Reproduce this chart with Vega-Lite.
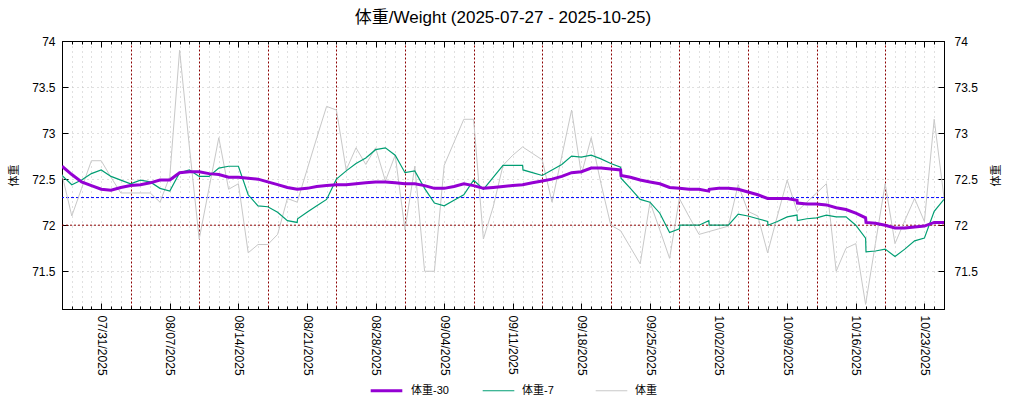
{
  "$schema": "https://vega.github.io/schema/vega-lite/v6.json",
  "autosize": "none",
  "padding": {"left": 62, "top": 41, "right": 80, "bottom": 91},
  "width": 882,
  "height": 268,
  "background": "white",
  "title": {
    "text": "体重/Weight (2025-07-27 - 2025-10-25)",
    "font": "Liberation Sans, Noto Sans CJK JP",
    "fontSize": 17,
    "fontWeight": "normal",
    "color": "#000",
    "anchor": "middle",
    "offset": 8
  },
  "config": {
    "view": {"stroke": "#000"},
    "legend": {
      "orient": "none",
      "legendX": 307,
      "legendY": 332,
      "direction": "horizontal",
      "symbolType": "stroke",
      "symbolSize": 1000,
      "labelFont": "Liberation Sans, Noto Sans CJK JP",
      "labelFontSize": 11,
      "labelColor": "#000",
      "labelOffset": 7,
      "columnPadding": 31,
      "gridAlign": "all"
    }
  },
  "data": {
    "values": [
      {"t": "2025-07-27T00:00", "raw": 72.55, "ma7": 72.54, "ma30": 72.64},
      {"t": "2025-07-28T00:00", "raw": 72.1, "ma7": 72.44, "ma30": 72.55},
      {"t": "2025-07-29T00:00", "raw": 72.4, "ma7": 72.49, "ma30": 72.47},
      {"t": "2025-07-30T00:00", "raw": 72.7, "ma7": 72.56, "ma30": 72.43},
      {"t": "2025-07-31T00:00", "raw": 72.7, "ma7": 72.6, "ma30": 72.39},
      {"t": "2025-08-01T00:00", "raw": 72.52, "ma7": 72.53, "ma30": 72.38},
      {"t": "2025-08-02T00:00", "raw": 72.35, "ma7": 72.49, "ma30": 72.41},
      {"t": "2025-08-03T00:00", "raw": 72.35, "ma7": 72.45, "ma30": 72.43},
      {"t": "2025-08-04T00:00", "raw": 72.35, "ma7": 72.49, "ma30": 72.44},
      {"t": "2025-08-05T00:00", "raw": 72.35, "ma7": 72.47, "ma30": 72.46},
      {"t": "2025-08-06T00:00", "raw": 72.25, "ma7": 72.4, "ma30": 72.49},
      {"t": "2025-08-07T00:00", "raw": 72.53, "ma7": 72.37, "ma30": 72.49},
      {"t": "2025-08-08T00:00", "raw": 73.9, "ma7": 72.57, "ma30": 72.57},
      {"t": "2025-08-09T00:00", "raw": 72.85, "ma7": 72.6, "ma30": 72.58},
      {"t": "2025-08-10T00:00", "raw": 71.85, "ma7": 72.53, "ma30": 72.58},
      {"t": "2025-08-11T00:00", "raw": 72.4, "ma7": 72.53, "ma30": 72.56},
      {"t": "2025-08-12T00:00", "raw": 72.95, "ma7": 72.62, "ma30": 72.55},
      {"t": "2025-08-13T00:00", "raw": 72.39, "ma7": 72.64, "ma30": 72.52},
      {"t": "2025-08-14T00:00", "raw": 72.45, "ma7": 72.64, "ma30": 72.52},
      {"t": "2025-08-15T00:00", "raw": 71.7, "ma7": 72.33, "ma30": 72.51},
      {"t": "2025-08-16T00:00", "raw": 71.79, "ma7": 72.21, "ma30": 72.5},
      {"t": "2025-08-17T00:00", "raw": 71.79, "ma7": 72.2, "ma30": 72.47},
      {"t": "2025-08-18T00:00", "raw": 71.9, "ma7": 72.14, "ma30": 72.44},
      {"t": "2025-08-19T00:00", "raw": 72.29, "ma7": 72.05, "ma30": 72.41},
      {"t": "2025-08-20T00:00", "raw": 72.25, "ma7": 72.03, "ma30": 72.39},
      {"t": "2025-08-20T01:00", "ma7": 72.07},
      {"t": "2025-08-21T00:00", "raw": 72.6, "ma7": 72.14, "ma30": 72.4},
      {"t": "2025-08-22T00:00", "raw": 72.95, "ma7": 72.21, "ma30": 72.42},
      {"t": "2025-08-23T00:00", "raw": 73.29, "ma7": 72.28, "ma30": 72.43},
      {"t": "2025-08-24T00:00", "raw": 73.25, "ma7": 72.5, "ma30": 72.44},
      {"t": "2025-08-25T00:00", "raw": 72.6, "ma7": 72.59, "ma30": 72.44},
      {"t": "2025-08-26T00:00", "raw": 72.84, "ma7": 72.67, "ma30": 72.45},
      {"t": "2025-08-27T00:00", "raw": 72.66, "ma7": 72.73, "ma30": 72.46},
      {"t": "2025-08-28T00:00", "raw": 72.84, "ma7": 72.82, "ma30": 72.47},
      {"t": "2025-08-29T00:00", "raw": 72.48, "ma7": 72.84, "ma30": 72.47},
      {"t": "2025-08-30T00:00", "raw": 72.76, "ma7": 72.76, "ma30": 72.46},
      {"t": "2025-08-31T00:00", "raw": 71.95, "ma7": 72.57, "ma30": 72.45},
      {"t": "2025-09-01T00:00", "raw": 72.64, "ma7": 72.59, "ma30": 72.45},
      {"t": "2025-09-02T00:00", "raw": 71.5, "ma7": 72.4, "ma30": 72.43},
      {"t": "2025-09-03T00:00", "raw": 71.5, "ma7": 72.24, "ma30": 72.4},
      {"t": "2025-09-04T00:00", "raw": 72.65, "ma7": 72.21, "ma30": 72.4},
      {"t": "2025-09-05T00:00", "raw": 72.9, "ma7": 72.27, "ma30": 72.42},
      {"t": "2025-09-06T00:00", "raw": 73.15, "ma7": 72.33, "ma30": 72.45},
      {"t": "2025-09-07T00:00", "raw": 73.15, "ma7": 72.49, "ma30": 72.43},
      {"t": "2025-09-08T00:00", "raw": 71.85, "ma7": 72.39, "ma30": 72.4},
      {"t": "2025-09-09T00:00", "raw": 72.2, "ma7": 72.52, "ma30": 72.41},
      {"t": "2025-09-10T00:00", "raw": 72.65, "ma7": 72.65, "ma30": 72.42},
      {"t": "2025-09-11T00:00", "raw": 72.76, "ma7": 72.65, "ma30": 72.43},
      {"t": "2025-09-12T00:00", "raw": 72.85, "ma7": 72.65, "ma30": 72.44},
      {"t": "2025-09-12T01:00", "ma7": 72.6},
      {"t": "2025-09-13T00:00", "raw": 72.78, "ma7": 72.57, "ma30": 72.46},
      {"t": "2025-09-14T00:00", "raw": 72.71, "ma7": 72.54, "ma30": 72.48},
      {"t": "2025-09-15T00:00", "raw": 72.25, "ma7": 72.6, "ma30": 72.5},
      {"t": "2025-09-16T00:00", "raw": 72.75, "ma7": 72.66, "ma30": 72.53},
      {"t": "2025-09-17T00:00", "raw": 73.25, "ma7": 72.75, "ma30": 72.57},
      {"t": "2025-09-18T00:00", "raw": 72.55, "ma7": 72.74, "ma30": 72.58},
      {"t": "2025-09-19T00:00", "raw": 72.95, "ma7": 72.76, "ma30": 72.62},
      {"t": "2025-09-20T00:00", "raw": 72.45, "ma7": 72.72, "ma30": 72.62},
      {"t": "2025-09-21T00:00", "raw": 72.0, "ma7": 72.67, "ma30": 72.61},
      {"t": "2025-09-22T00:00", "raw": 71.94, "ma7": 72.63, "ma30": 72.6},
      {"t": "2025-09-22T01:00", "ma7": 72.51, "ma30": 72.54},
      {"t": "2025-09-23T00:00", "raw": 71.76, "ma7": 72.4, "ma30": 72.52},
      {"t": "2025-09-24T00:00", "raw": 71.58, "ma7": 72.28, "ma30": 72.49},
      {"t": "2025-09-25T00:00", "raw": 72.25, "ma7": 72.25, "ma30": 72.47},
      {"t": "2025-09-26T00:00", "raw": 71.95, "ma7": 72.13, "ma30": 72.45},
      {"t": "2025-09-27T00:00", "raw": 71.64, "ma7": 71.92, "ma30": 72.41},
      {"t": "2025-09-28T00:00", "raw": 72.29, "ma7": 71.96, "ma30": 72.4},
      {"t": "2025-09-28T01:00", "ma7": 72.0},
      {"t": "2025-09-29T00:00", "raw": 72.09, "ma7": 72.0, "ma30": 72.39},
      {"t": "2025-09-30T00:00", "raw": 71.9, "ma7": 72.0, "ma30": 72.39},
      {"t": "2025-10-01T00:00", "raw": 71.93, "ma7": 72.05, "ma30": 72.37},
      {"t": "2025-10-01T01:00", "ma7": 72.0, "ma30": 72.39},
      {"t": "2025-10-02T00:00", "raw": 71.96, "ma7": 72.0, "ma30": 72.4},
      {"t": "2025-10-03T00:00", "raw": 71.99, "ma7": 72.0, "ma30": 72.4},
      {"t": "2025-10-04T00:00", "raw": 72.44, "ma7": 72.12, "ma30": 72.39},
      {"t": "2025-10-05T00:00", "raw": 72.15, "ma7": 72.1, "ma30": 72.36},
      {"t": "2025-10-06T00:00", "raw": 72.1, "ma7": 72.07, "ma30": 72.33},
      {"t": "2025-10-07T00:00", "raw": 71.7, "ma7": 72.04, "ma30": 72.29},
      {"t": "2025-10-07T01:00", "ma7": 72.0},
      {"t": "2025-10-08T00:00", "raw": 72.1, "ma7": 72.04, "ma30": 72.29},
      {"t": "2025-10-09T00:00", "raw": 72.49, "ma7": 72.09, "ma30": 72.29},
      {"t": "2025-10-10T00:00", "raw": 72.15, "ma7": 72.11, "ma30": 72.27},
      {"t": "2025-10-10T01:00", "ma7": 72.05, "ma30": 72.24},
      {"t": "2025-10-11T00:00", "raw": 72.25, "ma7": 72.07, "ma30": 72.23},
      {"t": "2025-10-12T00:00", "raw": 72.35, "ma7": 72.08, "ma30": 72.23},
      {"t": "2025-10-13T00:00", "raw": 72.45, "ma7": 72.11, "ma30": 72.22},
      {"t": "2025-10-14T00:00", "raw": 71.5, "ma7": 72.09, "ma30": 72.19},
      {"t": "2025-10-15T00:00", "raw": 71.75, "ma7": 72.09, "ma30": 72.17},
      {"t": "2025-10-16T00:00", "raw": 71.8, "ma7": 72.0, "ma30": 72.13},
      {"t": "2025-10-17T00:00", "raw": 71.14, "ma7": 71.86, "ma30": 72.08},
      {"t": "2025-10-17T01:00", "ma7": 71.71, "ma30": 72.03},
      {"t": "2025-10-18T00:00", "raw": 71.8, "ma7": 71.72, "ma30": 72.02},
      {"t": "2025-10-19T00:00", "raw": 72.45, "ma7": 71.74, "ma30": 72.0},
      {"t": "2025-10-20T00:00", "raw": 71.8, "ma7": 71.66, "ma30": 71.97},
      {"t": "2025-10-21T00:00", "raw": 72.05, "ma7": 71.74, "ma30": 71.97},
      {"t": "2025-10-22T00:00", "raw": 72.29, "ma7": 71.83, "ma30": 71.98},
      {"t": "2025-10-23T00:00", "raw": 72.04, "ma7": 71.86, "ma30": 71.99},
      {"t": "2025-10-24T00:00", "raw": 73.15, "ma7": 72.15, "ma30": 72.03},
      {"t": "2025-10-25T00:00", "raw": 72.3, "ma7": 72.28, "ma30": 72.03}
    ]
  },
  "resolve": {"axis": {"x": "independent", "y": "independent"}},
  "layer": [
    {
      "data": {"values": [{"y": 72}]},
      "mark": {"type": "rule", "stroke": "#8b0000", "strokeDash": [2, 2], "strokeWidth": 1},
      "encoding": {
        "y": {"field": "y", "type": "quantitative", "scale": {"domain": [71.09, 74], "nice": false, "zero": false}, "axis": null}
      }
    },
    {
      "data": {"values": [{"y": 72.3}]},
      "mark": {"type": "rule", "stroke": "blue", "strokeDash": [3, 2], "strokeWidth": 1},
      "encoding": {
        "y": {"field": "y", "type": "quantitative", "scale": {"domain": [71.09, 74], "nice": false, "zero": false}, "axis": null},
        "color": {"value": "blue"}
      }
    },
    {
      "transform": [
        {"fold": ["ma30", "ma7", "raw"], "as": ["key", "v"]},
        {"filter": "datum.key == 'raw' && isValid(datum.v)"}
      ],
      "mark": {"type": "line", "clip": true},
      "encoding": {
        "x": {
          "field": "t", "type": "temporal",
          "scale": {"domain": [{"year": 2025, "month": 7, "date": 27}, {"year": 2025, "month": 10, "date": 25}], "nice": false},
          "axis": {
            "orient": "bottom", "title": null,
            "tickCount": {"interval": "day", "step": 1},
            "labelExpr": "day(datum.value) == 4 ? timeFormat(datum.value, '%m/%d/%Y') : ''",
            "labelAngle": 90, "labelAlign": "left", "labelBaseline": "middle",
            "labelOverlap": false, "labelFlush": false, "labelPadding": 12,
            "labelFont": "Liberation Sans", "labelFontSize": 12, "labelColor": "#000",
            "tickColor": "#000",
            "tickSize": {"condition": {"test": "day(datum.value) == 4", "value": -6}, "value": -3},
            "domainColor": "#000",
            "grid": true,
            "gridColor": {"condition": {"test": "day(datum.value) == 0", "value": "#8b0000"}, "value": "#c0c0c0"},
            "gridDash": {"condition": {"test": "day(datum.value) == 0", "value": [2, 2]}, "value": [1, 4]},
            "gridOpacity": 1
          }
        },
        "y": {
          "field": "v", "type": "quantitative",
          "scale": {"domain": [71.09, 74], "nice": false, "zero": false},
          "axis": {
            "orient": "left", "values": [71.5, 72, 72.5, 73, 73.5, 74], "format": "~g",
            "tickSize": -6, "tickColor": "#000", "domainColor": "#000",
            "labelPadding": 13, "labelFont": "Liberation Sans", "labelFontSize": 12, "labelColor": "#000",
            "grid": true, "gridColor": "#c0c0c0", "gridDash": [1, 4], "gridOpacity": 1,
            "title": "体重", "titleFont": "Noto Sans CJK JP", "titleFontSize": 11,
            "titleFontWeight": "normal", "titleColor": "#000", "titlePadding": 12
          }
        },
        "color": {
          "field": "key", "type": "nominal",
          "scale": {"domain": ["ma30", "ma7", "raw"], "range": ["#9400d3", "#009e73", "#c8c8c8"]},
          "legend": {"title": null, "labelExpr": "datum.label == 'ma30' ? '体重-30' : datum.label == 'ma7' ? '体重-7' : '体重'"}
        },
        "strokeWidth": {
          "field": "key", "type": "nominal",
          "scale": {"type": "ordinal", "domain": ["ma30", "ma7", "raw"], "range": [3, 1.2, 1]},
          "legend": {"title": null, "labelExpr": "datum.label == 'ma30' ? '体重-30' : datum.label == 'ma7' ? '体重-7' : '体重'"}
        }
      }
    },
    {
      "transform": [
        {"fold": ["ma30", "ma7", "raw"], "as": ["key", "v"]},
        {"filter": "datum.key == 'ma7' && isValid(datum.v)"}
      ],
      "mark": {"type": "line", "clip": true},
      "encoding": {
        "x": {
          "field": "t", "type": "temporal",
          "scale": {"domain": [{"year": 2025, "month": 7, "date": 27}, {"year": 2025, "month": 10, "date": 25}], "nice": false},
          "axis": {
            "orient": "top", "title": null, "labels": false, "grid": false,
            "tickCount": {"interval": "day", "step": 1},
            "tickColor": "#000",
            "tickSize": {"condition": {"test": "day(datum.value) == 4", "value": -6}, "value": -3},
            "domainColor": "#000"
          }
        },
        "y": {
          "field": "v", "type": "quantitative",
          "scale": {"domain": [71.09, 74], "nice": false, "zero": false},
          "axis": {
            "orient": "right", "values": [71.5, 72, 72.5, 73, 73.5, 74], "format": "~g",
            "tickSize": -6, "tickColor": "#000", "domainColor": "#000", "grid": false,
            "labelPadding": 16, "labelFont": "Liberation Sans", "labelFontSize": 12, "labelColor": "#000",
            "title": "体重", "titleFont": "Noto Sans CJK JP", "titleFontSize": 11, "titleAngle": -90,
            "titleFontWeight": "normal", "titleColor": "#000", "titlePadding": 24
          }
        },
        "color": {"field": "key", "type": "nominal", "scale": {"domain": ["ma30", "ma7", "raw"], "range": ["#9400d3", "#009e73", "#c8c8c8"]}},
        "strokeWidth": {"field": "key", "type": "nominal", "scale": {"type": "ordinal", "domain": ["ma30", "ma7", "raw"], "range": [3, 1.2, 1]}}
      }
    },
    {
      "transform": [
        {"fold": ["ma30", "ma7", "raw"], "as": ["key", "v"]},
        {"filter": "datum.key == 'ma30' && isValid(datum.v)"}
      ],
      "mark": {"type": "line", "clip": true},
      "encoding": {
        "x": {
          "field": "t", "type": "temporal",
          "scale": {"domain": [{"year": 2025, "month": 7, "date": 27}, {"year": 2025, "month": 10, "date": 25}], "nice": false},
          "axis": null
        },
        "y": {"field": "v", "type": "quantitative", "scale": {"domain": [71.09, 74], "nice": false, "zero": false}, "axis": null},
        "color": {"field": "key", "type": "nominal", "scale": {"domain": ["ma30", "ma7", "raw"], "range": ["#9400d3", "#009e73", "#c8c8c8"]}},
        "strokeWidth": {"field": "key", "type": "nominal", "scale": {"type": "ordinal", "domain": ["ma30", "ma7", "raw"], "range": [3, 1.2, 1]}}
      }
    }
  ]
}
